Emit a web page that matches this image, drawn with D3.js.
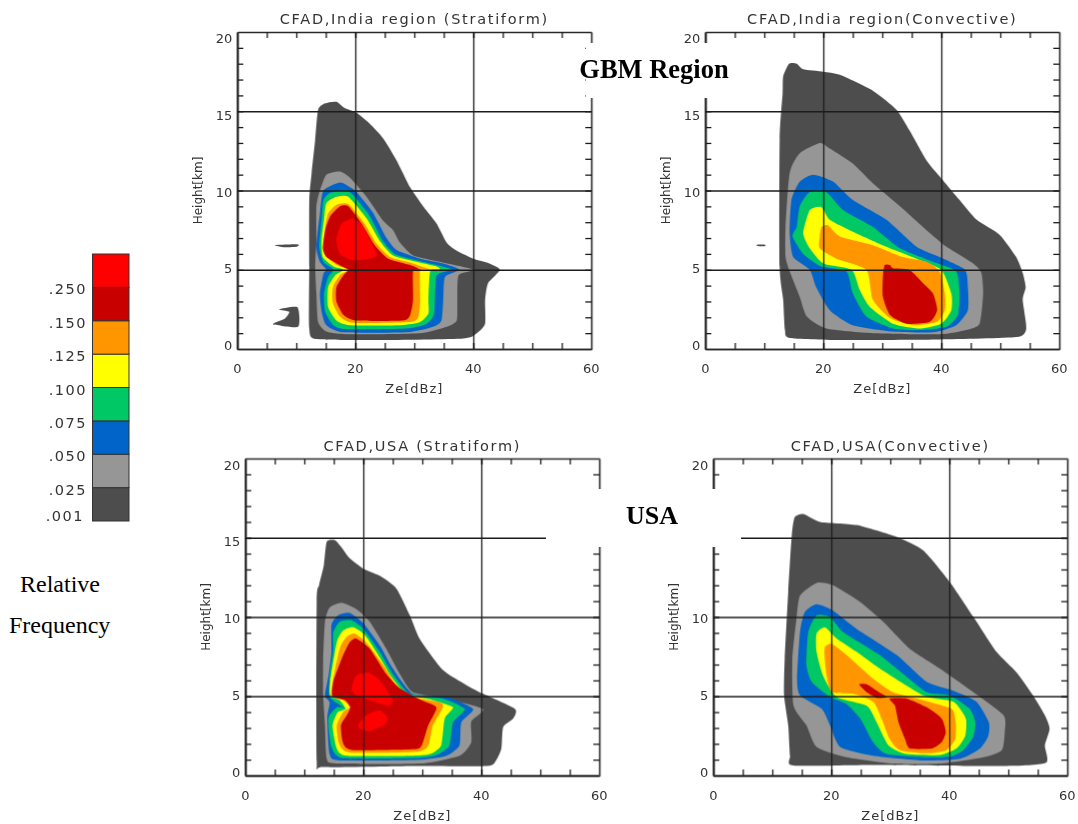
<!DOCTYPE html>
<html>
<head>
<meta charset="utf-8">
<script src="https://cdn.jsdelivr.net/npm/d3@7"></script>
<style>
  body { margin: 0; background: #fff; }
  svg { display: block; }
  .idl { font-family: "DejaVu Sans", sans-serif; fill: #333; }
  .serif { font-family: "Liberation Serif", serif; fill: #000; }
  .soft { filter: blur(0.4px); }
</style>
</head>
<body>
<div id="wrapper"></div>
<script>
// frequency classes, lowest first
const levels = ['.001', '.025', '.050', '.075', '.100', '.125', '.150', '.250']
const levelColors = ['#4d4d4d', '#969696', '#0064c8', '#00c864', '#ffff00', '#ff9600', '#c80000', '#ff0000']

const xTicks = [0, 20, 40, 60]
const xMinor = [5, 10, 15, 20, 25, 30, 35, 40, 45, 50, 55]
const yMinor = d3.range(1, 20)
const xGrid = [20, 40]
const yGrid = [5, 10, 15]

// contours as [class index, [[Ze, km], ...]]
const indiaStratiform = [
  [0, [[13.7,15.1],[14.9,15.5],[16.8,15.6],[18.2,15.2],[20.2,14.9],[22.5,14.2],[24.7,13.3],[27,11.9],[29.3,10.2],[31.5,9],[33.8,7.9],[35.5,6.7],[37.2,6.2],[40,5.7],[42.3,5.45],[44.5,5],[42.5,4.15],[42,3.1],[42,1.6],[40.6,1],[38.3,0.67],[24.2,0.57],[13.4,0.63],[12.2,1.3],[12.2,5.2],[12.2,9.4],[12.6,11.1],[13.2,13.2]]],
  [0, [[6.4,6.55],[10.3,6.6],[10,6.45],[8,6.42]]],
  [0, [[7.1,2.5],[10.2,2.63],[10.3,1.4],[6.1,1.58],[8.1,1.93],[8.8,2.35]]],
  [1, [[14,10],[15.1,11],[17.4,11.2],[19.1,10.8],[21.9,9.6],[24.7,8.1],[26.4,7.5],[27.6,6.7],[29.8,5.9],[34.3,5.5],[40,5],[37.5,4.65],[37.3,3.1],[37.2,1.8],[35.5,1.4],[31,1],[18.5,0.93],[15.1,1.1],[13.7,1.7],[13.4,3.5],[13.2,5.2],[13.4,6.9],[13.4,9]]],
  [2, [[14.6,10],[17.4,10.5],[19.1,10.2],[20.2,9.9],[23,8.6],[25.3,7],[27,6.25],[31,5.7],[34.9,5.4],[37.7,5],[35.2,4.55],[34.9,3.1],[34.6,1.8],[33.2,1.4],[28.7,1.05],[18,1.05],[15.1,1.5],[14.3,2.35],[14,3.5],[14.6,4.75],[15.1,5],[14,5.5],[13.4,6.45],[14,8.55]]],
  [3, [[14.6,9.4],[15.7,9.85],[18.5,10],[19.9,9.6],[22.5,8.35],[24.7,6.8],[26.7,6],[29.8,5.65],[33.8,5.3],[36.3,5],[33.8,4.65],[33.5,3.1],[33.3,2.15],[32.1,1.6],[28.7,1.3],[18.5,1.25],[16.3,1.5],[14.9,2.35],[14.7,3.5],[15.4,4.55],[16.3,5],[14.6,5.5],[13.9,6.45],[14.3,8.15]]],
  [4, [[15.1,9.2],[16.8,9.6],[18.8,9.6],[21.9,8.25],[24.2,6.8],[26.4,5.9],[29.8,5.55],[33.8,5.2],[34.3,5],[32.7,4.9],[32.4,3.1],[32.4,2.25],[31,1.7],[27.6,1.5],[19.1,1.5],[16.8,1.8],[15.4,2.65],[15.4,3.9],[16.6,4.65],[18,5],[16.3,5.2],[14.5,5.8],[14.3,6.9],[14.7,8.15]]],
  [5, [[15.4,8.55],[16.8,9.1],[18.8,9.15],[21.4,8],[23.6,6.65],[25.9,5.8],[29.8,5.4],[32.7,5],[31,4.95],[31,3.1],[30.7,2.05],[29.3,1.7],[19.7,1.65],[17.4,2.05],[16.2,2.9],[16.2,3.9],[17.4,4.65],[18.8,5],[16.8,5.3],[14.9,5.95],[14.6,6.65],[14.9,7.7]]],
  [6, [[15.7,8.35],[17.4,9],[18.8,9],[21.1,7.9],[23.3,6.55],[25.6,5.7],[29.3,5.3],[31,5],[29.8,4.9],[29.8,3.1],[29.3,2.15],[28.1,1.8],[20.2,1.8],[18,2.15],[16.8,3],[16.8,3.9],[18,4.65],[18.8,5],[17.3,5.3],[15.1,5.8],[14.5,6.35],[14.9,7.5]]],
  [7, [[16.8,6.9],[17.7,7.9],[19.7,8.25],[21.4,7.7],[23.6,6],[22.5,5.7],[19.7,5.6],[17.4,6]]]
]

const indiaConvective = [
  [0, [[13.2,17.2],[14.2,18],[15.5,18],[16.6,17.65],[20,17.5],[22.8,17.3],[28.4,16.3],[32.4,15.1],[34.6,13.8],[37.5,11.9],[39.7,10.9],[43.1,9.4],[46,8.15],[49.9,7.2],[52.7,5.8],[53.8,4.8],[54.3,3.9],[53.8,3.1],[54.4,1.3],[52.7,0.75],[39.7,0.6],[22.8,0.57],[14.3,0.7],[13.5,1.2],[13.2,3.1],[12.6,5.2],[12.6,13.2],[13.1,16.1]]],
  [0, [[8.8,6.58],[10.1,6.58],[10.1,6.48],[8.8,6.5]]],
  [1, [[14.3,11.1],[16,12.35],[19.4,13],[21.1,12.65],[25,11.7],[28.4,10.45],[33,9],[37.5,7.5],[40.9,6.45],[45.4,5.4],[46.8,4.8],[47.1,3.5],[46.5,1.6],[44.2,1.2],[39.7,0.93],[28.4,1],[20.5,1.3],[17.2,2.05],[16,3.3],[14.3,4.9],[13.6,5.8],[13.6,7.7]]],
  [2, [[14.6,9.4],[16,10.55],[18.3,11],[21.7,10.55],[25,9.4],[30.7,8.15],[35.8,6.45],[39.7,5.8],[44,5],[44.5,3.9],[44.5,2.45],[42.5,1.5],[38.6,1.05],[31.8,1.1],[25,1.5],[21.1,2.45],[18.8,3.9],[17.7,5],[14.9,5.8],[14.3,7.3]]],
  [3, [[15.5,7.7],[16,9],[17.7,9.9],[20.5,9.9],[23.4,8.75],[28.4,7.7],[33,6.35],[38.6,5.5],[42.5,4.9],[43.1,3.5],[42.8,2.15],[40.9,1.4],[36.9,1.2],[31.8,1.3],[27.3,2.05],[25,3.5],[23.9,4.9],[19.7,5.2],[16.6,6],[14.8,7.1]]],
  [4, [[16.6,7.3],[17.7,8.75],[19.7,8.95],[21.1,8.15],[25,7.4],[30.7,6.45],[35.8,5.7],[40,5],[41.7,3.5],[41.7,2.45],[40,1.6],[36.3,1.3],[31.8,1.6],[27.9,2.65],[26.2,3.7],[24.8,5],[20,5.4],[17.7,6.35]]],
  [5, [[19.4,7.1],[19.7,7.7],[20.8,7.8],[22.8,7.1],[28.4,6.55],[33.5,5.8],[37.5,5.5],[39.7,4.9],[40.6,3.5],[40.6,2.45],[39.2,1.7],[35.2,1.5],[31.3,1.95],[28.4,3.1],[27.3,5],[22.2,5.7],[19.4,6.35]]],
  [6, [[30.4,5.3],[31.3,5.3],[31.8,5.1],[34.6,5],[36.9,4.15],[38.6,3.5],[39.3,2.45],[38,1.7],[34.1,1.6],[31.3,2.15],[30.1,3.3],[30.1,4.55]]]
]

const usaStratiform = [
  [0, [[13.3,13.25],[13.8,14.75],[15.2,14.85],[16.3,14.4],[17.7,13.7],[20,13.05],[22.8,12.6],[25.6,11.8],[27.9,10.1],[29.6,8.6],[33.5,6.65],[37.5,5.7],[40.3,5.15],[45.7,4.2],[45.4,3.6],[43.7,3.05],[43.4,1.7],[42.5,0.95],[40.9,0.6],[28.4,0.6],[13.2,0.53],[12.1,0.95],[12.1,10.95],[12.5,12]]],
  [1, [[13.5,9.7],[14.3,10.6],[16.3,10.9],[18.8,10.5],[21.1,9.7],[23.9,8],[26.2,6.4],[28.4,5.25],[34.1,4.85],[40.3,4.2],[38.3,3.4],[38.3,2.1],[36.3,1.25],[29.6,0.75],[15.5,0.75],[13.8,1.05],[13.5,3.15],[13.2,5.05],[13.2,7.35]]],
  [2, [[14.6,9.5],[15.7,10.1],[17.7,10.25],[20,9.6],[22.8,8.2],[25,6.75],[28.4,5.15],[34.1,4.95],[38.6,4.2],[36.6,3.35],[36.3,1.9],[34.1,1.25],[29.6,1],[16,0.95],[14.3,1.35],[13.9,3.6],[14.3,4.6],[13.5,5.05],[14.1,6.3],[14.6,7.8]]],
  [3, [[14.9,9],[16,9.7],[18,9.8],[20,9.25],[22.8,7.8],[25,6.4],[27.9,5.15],[33.5,4.85],[37.2,4.2],[35.2,3.35],[34.6,1.9],[32.4,1.3],[28.4,1.1],[16.6,1.1],[14.6,1.8],[14.1,3.6],[15.5,4.3],[16.6,4.3],[14.3,4.95],[14.3,6.3],[14.9,7.8]]],
  [4, [[15.5,8.4],[16.6,9.15],[18.3,9.35],[20.3,8.85],[22.8,7.45],[25,6.1],[27.3,5.15],[31.8,4.75],[35.2,4.3],[33.8,3.6],[33.2,1.9],[31.3,1.35],[28.4,1.25],[17.2,1.25],[15.5,1.7],[14.8,3.15],[15.7,4],[17,4.2],[16,4.75],[14.4,5.05],[14.4,5.9]]],
  [5, [[16,8],[17.2,8.75],[18.6,8.95],[20.5,8.4],[23.4,6.95],[25.6,5.7],[28.4,4.95],[33.5,4.5],[31.8,3.15],[31,1.9],[29,1.5],[17.7,1.45],[15.9,2],[15.5,3.15],[16.6,4],[17.7,4.3],[16.6,4.75],[14.6,5],[14.8,5.9]]],
  [6, [[16.6,7.6],[17.7,8.4],[18.8,8.65],[21.1,8],[23.9,6.4],[26.2,5.5],[29.6,4.8],[32.4,4.3],[31,3.15],[29.9,1.9],[28.4,1.65],[18.3,1.6],[16.6,2],[16.2,3.15],[17.2,3.8],[17.8,4.3],[16.9,4.75],[14.8,5],[14.9,5.9],[15.7,6.75]]],
  [7, [[18,5.45],[18.8,6.3],[20.8,6.5],[22.8,6],[25,4.75],[24.2,4.4],[21.1,4.75],[18.8,5.05]]],
  [7, [[19.1,3.15],[20.5,3.8],[22.8,4.1],[24.2,3.6],[23.4,3.15],[21.1,2.8],[19.7,2.9]]]
]

const usaConvective = [
  [0, [[13.3,15.15],[13.8,16.3],[15.3,16.5],[18.1,16],[24.3,15.8],[31.1,15.05],[35.6,14.2],[40.1,12.2],[44.1,10],[48,7.8],[51.4,6.5],[54.2,5.05],[56.2,3.8],[57,2.95],[56.2,1.9],[56.4,0.8],[49.7,0.6],[27.1,0.67],[13.6,0.63],[13,1.25],[12.7,3.15],[12,5.05],[12.1,7.35],[12.7,11.6]]],
  [1, [[14.1,9.9],[14.7,11.35],[17.5,12.15],[20.3,12],[24.9,10.95],[28.8,9.7],[33.3,8],[38.4,6.75],[44.1,5.25],[49.2,3.8],[49.4,2.75],[48.9,1.6],[45.8,1.15],[38.4,0.75],[30.5,0.75],[22.6,1.15],[17.5,1.8],[15.8,3.15],[13.6,4.4],[13.4,7.35]]],
  [2, [[14.7,9.05],[15.5,10.3],[17.5,10.8],[20.3,10.4],[24.3,9.25],[31.1,7.6],[36.2,5.9],[40.7,5.35],[44.6,4.65],[46.7,3.35],[46.6,2.5],[45.2,1.7],[41.8,1.05],[35.6,0.95],[27.1,1.25],[21.5,1.8],[19.8,3.15],[18.4,4.2],[14.7,5.05],[14.2,6.1]]],
  [3, [[15.8,6.95],[16.1,9.05],[17.5,10.1],[19.8,10],[22,9.05],[28.2,7.6],[32.2,6.4],[36.2,5.25],[40.1,5.05],[43.5,4.2],[44.4,3.35],[44.1,2.5],[42.4,1.6],[40.1,1.2],[35.6,1.15],[29.4,1.35],[27.1,2.1],[24.9,3.6],[22.6,4.5],[19.8,4.95],[16.7,5.9]]],
  [4, [[17.5,7.8],[17.5,8.95],[18.9,9.35],[20.9,8.65],[24.3,7.8],[28.2,6.75],[35.6,5.05],[40.7,4.65],[42.8,3.6],[42.7,2.5],[41.2,1.7],[38.4,1.3],[32.8,1.35],[29.7,1.9],[27.7,3.35],[26,4.4],[20.9,4.95],[18.6,6.3]]],
  [5, [[18.9,7.35],[18.9,8.1],[20.1,8.3],[22.6,7.6],[27.1,6.1],[30.5,5.25],[35.6,4.75],[40.4,4.2],[41.1,3.35],[41,2.3],[39.5,1.6],[36.2,1.4],[31.6,1.6],[29.9,2.3],[28.5,3.6],[27.1,4.65],[23.7,5.15],[20.1,5.25],[19.2,6.3]]],
  [6, [[29.9,4.85],[32.8,4.85],[36.2,4.3],[38.7,3.6],[39.4,2.75],[38.7,2.1],[37,1.7],[33.3,1.7],[32.5,2.3],[31.4,3.35],[30.8,4.4]]],
  [6, [[24.7,5.75],[26,5.75],[27.7,5.35],[29.4,4.95],[27.7,4.9],[26,5.25]]]
]

const panels = [
  { title: 'CFAD,India region (Stratiform)', contours: indiaStratiform, left: 237.3, top: 32, yLabels: [0, 5, 10, 15, 20] },
  { title: 'CFAD,India region(Convective)', contours: indiaConvective, left: 705.3, top: 32, yLabels: [0, 5, 10, 15, 20] },
  { title: 'CFAD,USA (Stratiform)', contours: usaStratiform, left: 245.3, top: 458.5, yLabels: [0, 5, 10, 15, 20] },
  { title: 'CFAD,USA(Convective)', contours: usaConvective, left: 713.3, top: 458.5, yLabels: [0, 5, 10, 20] }
]

const w = 1078
const h = 824
const plotW = 354
const plotH = 317
const tickLen = 6

const svg = d3.select('#wrapper').append('svg')
  .attr('width', w)
  .attr('height', h)

const outline = d3.line().curve(d3.curveCardinalClosed.tension(0.4))

panels.forEach(p => {
  const x = d3.scaleLinear().domain([0, 60]).range([0, plotW])
  const y = d3.scaleLinear().domain([0, 20]).range([plotH, 0])
  // the labels sit a bit inside the tick positions in the original
  const yText = d3.scaleLinear().domain([0, 20]).range([plotH - 4, 6])

  const g = svg.append('g')
    .attr('class', 'soft')
    .attr('transform', `translate(${p.left},${p.top})`)

  g.selectAll('path.contour')
    .data(p.contours)
    .enter().append('path')
    .attr('class', 'contour')
    .attr('fill', d => levelColors[d[0]])
    .attr('d', d => outline(d[1].map(c => [x(c[0]), y(c[1])])))

  // ticks on all four sides, grid lines through the plot
  const axes = [
    d3.axisBottom(x).tickValues(xMinor).tickSize(-tickLen),
    d3.axisTop(x).tickValues(xMinor).tickSize(-tickLen),
    d3.axisLeft(y).tickValues(yMinor).tickSize(-tickLen),
    d3.axisRight(y).tickValues(yMinor).tickSize(-tickLen),
    d3.axisBottom(x).tickValues(xGrid).tickSize(-plotH),
    d3.axisLeft(y).tickValues(yGrid).tickSize(-plotW)
  ]
  const offsets = [[0, plotH], [0, 0], [0, 0], [plotW, 0], [0, plotH], [0, 0]]
  axes.forEach((a, i) => {
    const ag = g.append('g')
      .attr('transform', `translate(${offsets[i]})`)
      .call(a.tickFormat('').tickSizeOuter(0))
    ag.selectAll('line').attr('stroke', '#1c1c1c').attr('stroke-width', 1.3)
    ag.select('.domain').attr('stroke', '#2a2a2a').attr('stroke-width', 1.6)
  })

  g.selectAll('text.xtick')
    .data(xTicks)
    .enter().append('text')
    .attr('class', 'xtick idl')
    .attr('x', d => x(d))
    .attr('y', plotH + 24)
    .attr('text-anchor', 'middle')
    .style('font-size', '13px')
    .text(d => d)

  g.selectAll('text.ytick')
    .data(p.yLabels)
    .enter().append('text')
    .attr('class', 'ytick idl')
    .attr('x', -5)
    .attr('y', d => yText(d) + 5)
    .attr('text-anchor', 'end')
    .style('font-size', '13px')
    .text(d => d)

  g.append('text')
    .attr('class', 'idl')
    .attr('x', plotW / 2)
    .attr('y', -8)
    .attr('text-anchor', 'middle')
    .style('font-size', '14.5px')
    .style('letter-spacing', '1.7px')
    .text(p.title)

  g.append('text')
    .attr('class', 'idl')
    .attr('x', x(30))
    .attr('y', plotH + 44)
    .attr('text-anchor', 'middle')
    .style('font-size', '13px')
    .style('letter-spacing', '1px')
    .text('Ze[dBz]')

  g.append('text')
    .attr('class', 'idl')
    .attr('transform', `translate(-35,${y(10)}) rotate(-90)`)
    .attr('text-anchor', 'middle')
    .style('font-size', '12px')
    .text('Height[km]')
})

// white boxes behind the pasted region names, they cut the axes
svg.append('rect').attr('x', 586).attr('y', 43).attr('width', 128).attr('height', 55).attr('fill', '#fff')
svg.append('rect').attr('x', 546).attr('y', 489).attr('width', 195).attr('height', 58).attr('fill', '#fff')

svg.append('text')
  .attr('class', 'serif')
  .attr('x', 654)
  .attr('y', 78)
  .attr('text-anchor', 'middle')
  .style('font-size', '26.5px')
  .style('font-weight', 'bold')
  .text('GBM Region')

svg.append('text')
  .attr('class', 'serif')
  .attr('x', 652)
  .attr('y', 524)
  .attr('text-anchor', 'middle')
  .style('font-size', '26px')
  .style('font-weight', 'bold')
  .text('USA')

// colour bar
const legendY = d3.scaleBand().domain(levels.slice().reverse()).range([254, 521])

const legend = svg.append('g').attr('class', 'soft')

legend.selectAll('rect.swatch')
  .data(levels)
  .enter().append('rect')
  .attr('class', 'swatch')
  .attr('x', 92.5)
  .attr('y', d => legendY(d))
  .attr('width', 36.5)
  .attr('height', legendY.bandwidth())
  .attr('fill', (d, i) => levelColors[i])
  .attr('stroke', '#333')
  .attr('stroke-width', 1)

// each label sits under the lower edge of its class, .001 closes the bar
legend.selectAll('text.legend')
  .data(levels)
  .enter().append('text')
  .attr('class', 'legend idl')
  .attr('x', d => d === '.001' ? 84 : 87)
  .attr('y', d => legendY(d) + legendY.bandwidth() + (d === '.001' ? 0 : 7))
  .attr('text-anchor', 'end')
  .style('font-size', '14.5px')
  .style('letter-spacing', '1.5px')
  .text(d => d)

svg.append('text').attr('class', 'serif').attr('x', 20).attr('y', 592)
  .style('font-size', '24px').text('Relative')
svg.append('text').attr('class', 'serif').attr('x', 9).attr('y', 633)
  .style('font-size', '24px').text('Frequency')
</script>
</body>
</html>
